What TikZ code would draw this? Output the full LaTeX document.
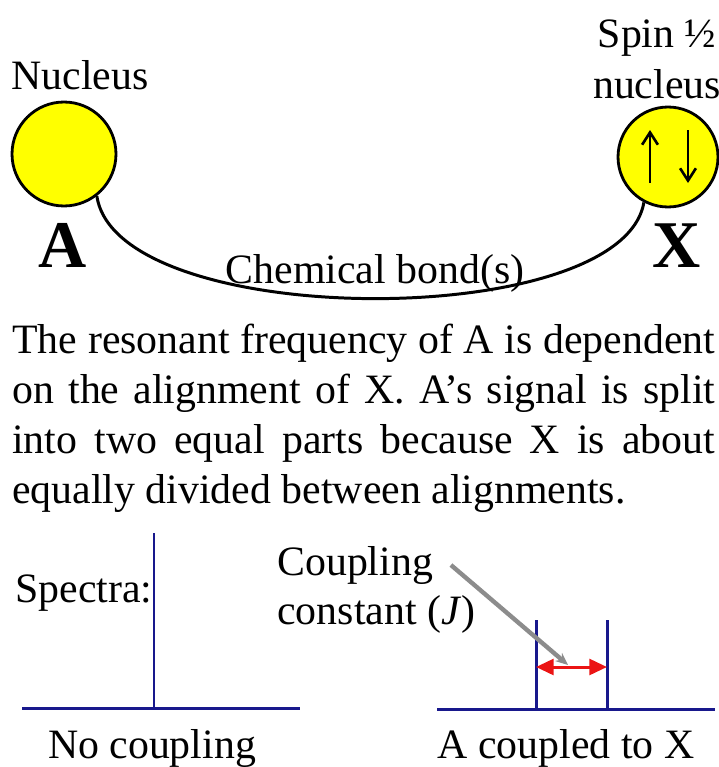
\documentclass[tikz,border=0pt]{standalone}
\usepackage{fontspec}
\setmainfont{Liberation Serif}
\usetikzlibrary{arrows.meta}
\definecolor{nucyellow}{RGB}{255,255,0}
\definecolor{specblue}{RGB}{24,24,140}
\definecolor{jgray}{RGB}{140,140,140}
\definecolor{jred}{RGB}{235,20,20}

\begin{document}
\begin{tikzpicture}[x=0.02cm, y=-0.02cm,
    every node/.style={font=\fontsize{23.8pt}{28.5pt}\selectfont, inner sep=0pt},
    nucleus/.style={draw, circle, line width=1.6pt, fill=nucyellow},
    bigletter/.style={font=\fontsize{38pt}{40pt}\selectfont\bfseries},
    spinarrow/.style={line width=1.5pt, -{Straight Barb[length=7pt,width=9pt]}},
    spectrum/.style={draw=specblue, line width=1.7pt},
    jarrow/.style={draw=jgray, line width=2.5pt, -{Stealth[length=7pt,width=6pt]}, jgray},
    splitting/.style={draw=jred, line width=1.7pt, {Triangle[length=10pt,width=9pt]}-{Triangle[length=10pt,width=9pt]}, jred}]
    \useasboundingbox (0,0) rectangle (719,767);

    % Nuclei A and X
    \node[nucleus, minimum size=2.08cm] (nucA) at (64,154) {};
    \node[nucleus, minimum size=2.0cm] (nucX) at (668,157) {};
    \node[anchor=base] (nucAtxt) at (80,90) {Nucleus};
    \node[anchor=base, align=center] (nucXtxt) at (657,98) {Spin ½\\nucleus};
    \node[bigletter, anchor=base] (letA) at (63,267) {A};
    \node[bigletter, anchor=base] (letX) at (677,267) {X};

    % Spin up and down
    \draw[spinarrow] (650,183) -- (650,130);
    \draw[spinarrow] (688,130) -- (688,183);

    % Chemical bond
    \draw[line width=1.7pt] (nucA.-52) .. controls +(20,135) and +(-22,130) .. (nucX.-118);
    \node[anchor=base] (bond) at (375,283) {Chemical bond(s)};

    % Explanation
    \node[anchor=base west, text width=14.06cm, align=justify] (expl) at (12,353)
        {\tolerance=10000 The resonant frequency of A is dependent\linebreak
         on the alignment of X. A’s signal is split\linebreak
         into two equal parts because X is about\linebreak
         equally divided between alignments.};

    % Spectrum without coupling
    \node[anchor=base west] (spec) at (15,602) {Spectra:};
    \coordinate (ax1w) at (22,708);
    \coordinate (ax1e) at (300,708);
    \coordinate (pk1) at (154,533);
    \coordinate (pk1b) at (154,708);
    \draw[spectrum] (ax1w) -- (ax1e);
    \draw[spectrum] (pk1b) -- (pk1);
    \node[anchor=base] (nocpl) at (152,758) {No coupling};

    % Spectrum with coupling
    \coordinate (ax2w) at (437,709);
    \coordinate (ax2e) at (715,709);
    \coordinate (pk2) at (536,620);
    \coordinate (pk2b) at (536,709);
    \coordinate (pk3) at (607,620);
    \coordinate (pk3b) at (607,709);
    \draw[spectrum] (ax2w) -- (ax2e);
    \draw[spectrum] (pk2b) -- (pk2);
    \draw[spectrum] (pk3b) -- (pk3);
    \node[anchor=base] (cplx) at (566,758) {A coupled to X};

    % Coupling constant
    \coordinate (jl) at (536,667);
    \coordinate (jr) at (607,667);
    \draw[splitting] (jl) -- (jr);
    \node[anchor=base west] (cpl) at (277,575) {Coupling};
    \node[anchor=base west] (cst) at (277,624) {constant (\textit{J})};
    \coordinate (jhead) at (568,665);
    \draw[jarrow] ([xshift=10pt]cpl.east) -- (jhead);
\end{tikzpicture}
\end{document}
